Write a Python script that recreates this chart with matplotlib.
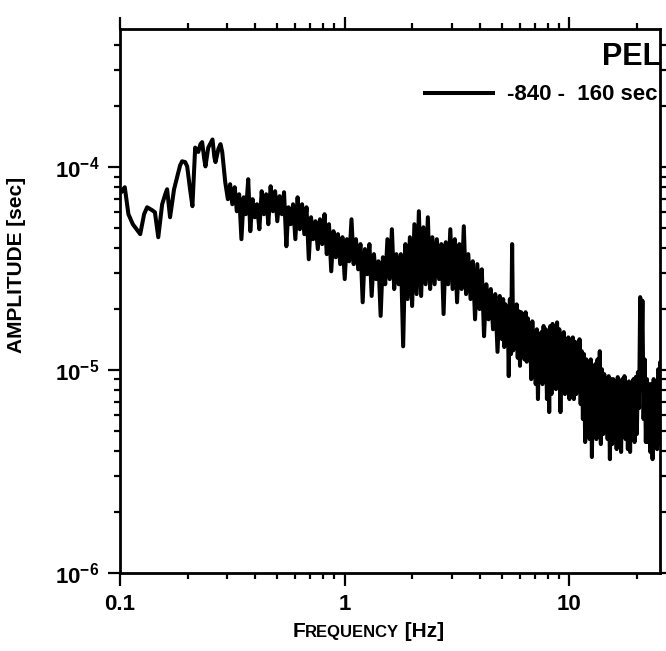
import matplotlib
matplotlib.use("Agg")
import matplotlib.pyplot as plt
from matplotlib.offsetbox import AnchoredOffsetbox, HPacker, TextArea
from matplotlib.ticker import FixedLocator, LogLocator, NullFormatter

# amplitude spectrum, -840 .. 160 s window, station PEL
freq = [0.102, 0.105, 0.109, 0.114, 0.123, 0.128, 0.132, 0.139, 0.143, 0.148,
        0.154, 0.159, 0.162, 0.167, 0.174, 0.180, 0.185, 0.189, 0.195, 0.199,
        0.205, 0.210, 0.216, 0.223, 0.228, 0.232, 0.237, 0.240, 0.247, 0.258,
        0.263, 0.266, 0.274, 0.280, 0.285, 0.294,
        0.302, 0.309, 0.316, 0.324, 0.331, 0.339, 0.347, 0.355, 0.363, 0.372,
        0.380, 0.389, 0.398, 0.407, 0.417, 0.427, 0.437, 0.447, 0.457, 0.468,
        0.479, 0.490, 0.501, 0.513, 0.525, 0.537, 0.550, 0.562, 0.575, 0.589,
        0.603, 0.617, 0.631, 0.646, 0.661, 0.676, 0.692, 0.708, 0.724, 0.741,
        0.759, 0.776, 0.794, 0.813, 0.832, 0.851, 0.871, 0.891, 0.912, 0.933,
        0.955, 0.977,
        1.000, 1.023, 1.047, 1.072, 1.096, 1.122, 1.148, 1.175, 1.202, 1.230,
        1.259, 1.288, 1.318, 1.349, 1.380, 1.413, 1.445, 1.479, 1.514, 1.549,
        1.585, 1.622, 1.660, 1.698, 1.738, 1.778, 1.820, 1.862, 1.905, 1.950,
        1.995, 2.042, 2.089, 2.138, 2.188, 2.239, 2.291, 2.344, 2.399, 2.455,
        2.512, 2.570, 2.630, 2.692, 2.754, 2.818, 2.884, 2.951, 3.020, 3.090,
        3.162, 3.236, 3.311, 3.388, 3.467, 3.548, 3.631, 3.715, 3.802, 3.890,
        3.981, 4.074, 4.169, 4.266, 4.365, 4.467, 4.571, 4.677, 4.786, 4.898,
        5.012, 5.070, 5.129, 5.188, 5.248, 5.309, 5.370, 5.433, 5.495, 5.559,
        5.623, 5.689, 5.754, 5.821, 5.888, 5.957, 6.026, 6.095, 6.166, 6.237,
        6.310, 6.383, 6.457, 6.531, 6.607, 6.683, 6.761, 6.839, 6.918, 6.998,
        7.079, 7.161, 7.244, 7.328, 7.413, 7.499, 7.586, 7.674, 7.762, 7.852,
        7.943, 8.035, 8.128, 8.222, 8.318, 8.414, 8.511, 8.610, 8.710, 8.810,
        8.913, 9.016, 9.120, 9.226, 9.333, 9.441, 9.550, 9.661, 9.772, 9.886,
        10.00, 10.12, 10.23, 10.35, 10.47, 10.59, 10.72, 10.84, 10.96, 11.09,
        11.22, 11.35, 11.48, 11.61, 11.75, 11.89, 12.02, 12.16, 12.30, 12.45,
        12.59, 12.74, 12.88, 13.03, 13.18, 13.34, 13.49, 13.65, 13.80, 13.96,
        14.13, 14.29, 14.45, 14.62, 14.79, 14.96, 15.14, 15.31, 15.49, 15.67,
        15.85, 16.03, 16.22, 16.41, 16.60, 16.79, 16.98, 17.18, 17.38, 17.58,
        17.78, 17.99, 18.20, 18.41, 18.62, 18.84, 19.05, 19.28, 19.50, 19.72,
        19.95, 20.18, 20.42, 20.65, 20.89, 21.13, 21.38, 21.63, 21.88, 22.13,
        22.39, 22.65, 22.91, 23.17, 23.44, 23.71, 23.99, 24.27, 24.55, 24.83,
        25.12, 25.41, 25.70]

amp = [7.62e-5, 7.97e-5, 5.87e-5, 5.24e-5, 4.68e-5, 5.87e-5, 6.35e-5, 6.14e-5, 6.00e-5, 4.52e-5,
       6.57e-5, 7.36e-5, 7.79e-5, 5.67e-5, 7.79e-5, 9.03e-5, 1.02e-4, 1.07e-4, 1.06e-4, 1.01e-4,
       7.79e-5, 6.43e-5, 1.25e-4, 1.19e-4, 1.30e-4, 1.33e-4, 1.10e-4, 1.01e-4, 1.25e-4, 1.37e-4,
       1.12e-4, 1.06e-4, 1.23e-4, 1.30e-4, 1.19e-4, 8.43e-5,
       6.96e-5, 8.25e-5, 6.57e-5, 7.97e-5, 6.07e-5, 7.36e-5, 4.42e-5, 7.11e-5, 5.87e-5, 8.73e-5,
       4.84e-5, 6.96e-5, 5.67e-5, 6.57e-5, 4.95e-5, 7.62e-5, 5.87e-5, 7.36e-5, 5.24e-5, 8.06e-5,
       6.07e-5, 7.62e-5, 5.42e-5, 7.20e-5, 5.87e-5, 7.53e-5, 4.08e-5, 6.35e-5, 5.24e-5, 6.57e-5,
       4.42e-5, 7.11e-5, 4.95e-5, 6.57e-5, 4.68e-5, 6.35e-5, 3.52e-5, 5.67e-5, 4.42e-5, 5.42e-5,
       3.95e-5, 5.54e-5, 4.18e-5, 5.87e-5, 3.73e-5, 5.24e-5, 3.07e-5, 4.84e-5, 3.60e-5, 4.68e-5,
       3.33e-5, 4.52e-5,
       2.81e-5, 4.42e-5, 3.44e-5, 5.54e-5, 3.33e-5, 4.42e-5, 3.14e-5, 4.18e-5, 2.16e-5, 3.95e-5,
       2.97e-5, 4.18e-5, 2.32e-5, 3.73e-5, 2.81e-5, 3.44e-5, 1.85e-5, 3.60e-5, 2.65e-5, 4.42e-5,
       2.81e-5, 4.95e-5, 2.51e-5, 3.73e-5, 2.65e-5, 3.73e-5, 1.31e-5, 4.18e-5, 2.24e-5, 4.52e-5,
       2.07e-5, 5.24e-5, 2.37e-5, 6.07e-5, 2.32e-5, 5.06e-5, 2.65e-5, 5.67e-5, 2.51e-5, 4.52e-5,
       2.65e-5, 4.42e-5, 2.81e-5, 4.18e-5, 1.89e-5, 4.27e-5, 2.65e-5, 4.95e-5, 2.51e-5, 4.42e-5,
       2.16e-5, 4.18e-5, 2.51e-5, 5.12e-5, 2.37e-5, 3.73e-5, 2.24e-5, 3.44e-5, 1.78e-5, 3.33e-5,
       2.00e-5, 3.14e-5, 1.47e-5, 2.65e-5, 1.78e-5, 2.51e-5, 1.59e-5, 2.37e-5, 1.23e-5, 2.32e-5,
       1.42e-5, 2.24e-5, 1.30e-5, 2.11e-5, 1.34e-5, 2.05e-5, 9.34e-6, 2.24e-5, 1.20e-5, 4.18e-5,
       1.25e-5, 2.00e-5, 1.34e-5, 2.11e-5, 1.15e-5, 1.95e-5, 1.05e-5, 1.93e-5, 1.20e-5, 1.89e-5,
       1.13e-5, 1.93e-5, 1.10e-5, 1.80e-5, 1.27e-5, 1.59e-5, 9.03e-6, 1.74e-5, 1.05e-5, 1.50e-5,
       8.53e-6, 1.59e-5, 7.20e-6, 1.50e-5, 9.03e-6, 1.54e-5, 8.53e-6, 1.65e-5, 9.56e-6, 1.59e-5,
       7.20e-6, 1.50e-5, 6.21e-6, 1.65e-5, 7.62e-6, 1.69e-5, 8.53e-6, 1.65e-5, 8.06e-6, 1.72e-5,
       9.03e-6, 1.59e-5, 6.21e-6, 1.50e-5, 8.06e-6, 1.54e-5, 7.62e-6, 1.42e-5, 8.53e-6, 1.45e-5,
       7.20e-6, 1.34e-5, 8.06e-6, 1.45e-5, 7.20e-6, 1.38e-5, 7.62e-6, 1.34e-5, 8.06e-6, 1.42e-5,
       6.80e-6, 1.24e-5, 5.74e-6, 1.20e-5, 4.42e-6, 1.13e-5, 5.12e-6, 1.07e-5, 4.57e-6, 1.13e-5,
       3.73e-6, 1.01e-5, 4.84e-6, 1.07e-5, 4.57e-6, 1.13e-5, 5.12e-6, 1.24e-5, 4.32e-6, 1.01e-5,
       4.84e-6, 9.56e-6, 5.12e-6, 9.03e-6, 4.57e-6, 9.34e-6, 3.64e-6, 9.03e-6, 4.32e-6, 9.03e-6,
       4.57e-6, 8.53e-6, 4.08e-6, 9.24e-6, 4.57e-6, 8.53e-6, 3.95e-6, 9.03e-6, 4.84e-6, 9.34e-6,
       4.57e-6, 8.53e-6, 4.08e-6, 8.80e-6, 3.95e-6, 8.53e-6, 4.57e-6, 9.03e-6, 4.42e-6, 9.24e-6,
       4.84e-6, 9.77e-6, 6.50e-6, 2.29e-5, 1.00e-5, 2.20e-5, 5.74e-6, 1.13e-5, 4.42e-6, 9.03e-6,
       4.42e-6, 8.53e-6, 3.95e-6, 8.53e-6, 3.64e-6, 9.03e-6, 4.57e-6, 8.53e-6, 4.08e-6, 1.01e-5,
       4.32e-6, 1.10e-5, 5.12e-6]

x_ticks = [0.1, 1, 10]
x_ticklabels = ["0.1", "1", "10"]
y_ticks = [1e-6, 1e-5, 1e-4]
y_ticklabels = [r"$\mathbf{10^{-6}}$", r"$\mathbf{10^{-5}}$", r"$\mathbf{10^{-4}}$"]

plt.rcParams["font.family"] = ["Liberation Sans", "DejaVu Sans"]
plt.rcParams["font.weight"] = "bold"
plt.rcParams["mathtext.fontset"] = "custom"
plt.rcParams["mathtext.rm"] = "Liberation Sans:bold"
plt.rcParams["mathtext.bf"] = "Liberation Sans:bold"
plt.rcParams["mathtext.it"] = "Liberation Sans:bold:italic"

fig = plt.figure(figsize=(6.66, 6.51), dpi=100)
ax = fig.add_axes([0.1802, 0.1198, 0.8108, 0.8356])

ax.plot(freq, amp, color="black", lw=2.9, label="-840 -  160 sec")

ax.set_xscale("log")
ax.set_yscale("log")
ax.set_xlim(0.1, 25.3)
ax.set_ylim(1e-6, 4.8e-4)

ax.xaxis.set_major_locator(FixedLocator(x_ticks))
ax.set_xticklabels(x_ticklabels)
ax.xaxis.set_minor_locator(LogLocator(base=10, subs=range(2, 10)))
ax.xaxis.set_minor_formatter(NullFormatter())
ax.yaxis.set_major_locator(FixedLocator(y_ticks))
ax.set_yticklabels(y_ticklabels)
ax.yaxis.set_minor_locator(LogLocator(base=10, subs=range(2, 10)))
ax.yaxis.set_minor_formatter(NullFormatter())

ax.tick_params(which="both", direction="out", top=True, right=True, width=1.6,
               labelsize=16)
ax.tick_params(which="major", length=9, pad=6)
ax.tick_params(which="minor", length=4.5)
for s in ax.spines.values():
    s.set_linewidth(2.0)

ax.set_ylabel("AMPLITUDE [sec]", fontsize=15, fontweight="bold")
ax.yaxis.set_label_coords(-0.175, 0.566)

# small-caps style x label
parts = [TextArea("F", textprops=dict(fontsize=15, fontweight="bold")),
         TextArea("REQUENCY", textprops=dict(fontsize=12, fontweight="bold")),
         TextArea(" [Hz]", textprops=dict(fontsize=15, fontweight="bold"))]
xlab = AnchoredOffsetbox(loc="center", child=HPacker(children=parts, align="baseline", pad=0, sep=0),
                         bbox_to_anchor=(0.46, -0.108), bbox_transform=ax.transAxes,
                         frameon=False, pad=0, borderpad=0)
ax.add_artist(xlab)

ax.text(0.893, 0.934, "PEL", transform=ax.transAxes, fontsize=22,
        fontweight="bold", va="baseline", ha="left", clip_on=True)

ax.legend(loc="center right", bbox_to_anchor=(0.995, 0.879), frameon=False,
          fontsize=16, handlelength=3.1, handletextpad=0.6, borderpad=0,
          borderaxespad=0)

fig.savefig("out.png", dpi=100)
